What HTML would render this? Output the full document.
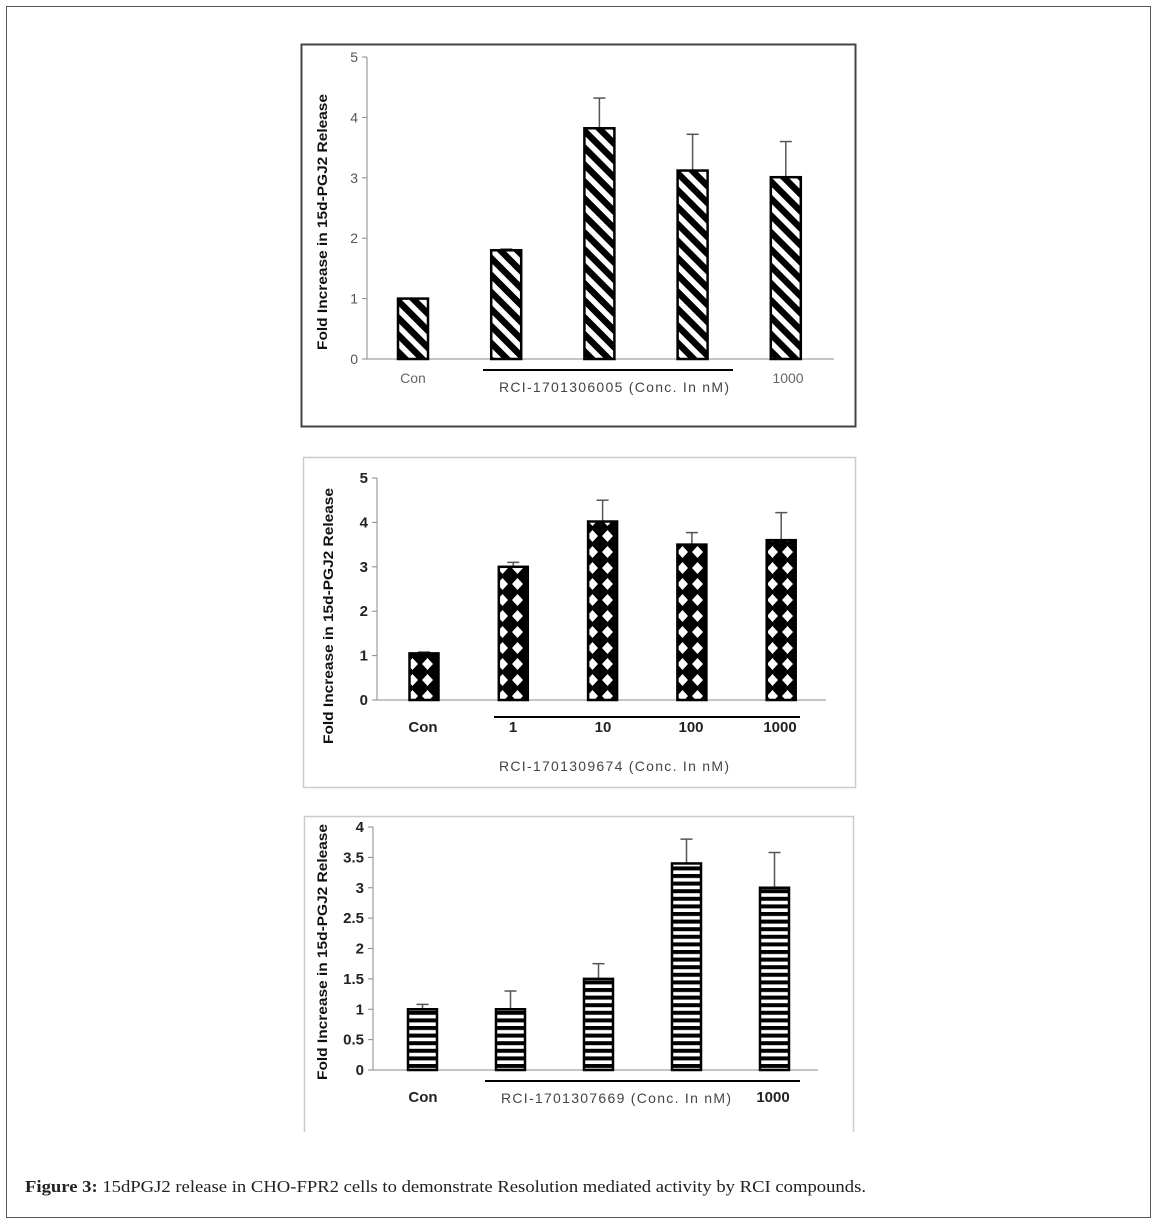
<!DOCTYPE html>
<html><head><meta charset="utf-8">
<style>
html,body{margin:0;padding:0;background:#fff;}
svg{display:block;}
</style></head>
<body>
<svg id="fig" width="1155" height="1224" xmlns="http://www.w3.org/2000/svg">
<defs>
<pattern id="diag" patternUnits="userSpaceOnUse" width="12" height="12" patternTransform="rotate(45)">
<rect width="12" height="12" fill="#fff"/><rect width="12" height="6.5" fill="#000"/>
</pattern>
<pattern id="diam" patternUnits="userSpaceOnUse" x="0" y="0" width="15" height="16">
<rect width="15" height="16" fill="#000"/>
<polygon points="7.5,2 13,8 7.5,14 2,8" fill="#fff"/>
</pattern>
<pattern id="hstr" patternUnits="userSpaceOnUse" width="10" height="7.6">
<rect width="10" height="7.6" fill="#fff"/><rect width="10" height="4" fill="#000"/>
</pattern>
</defs>
<rect x="6.5" y="6.5" width="1144" height="1211" fill="none" stroke="#555" stroke-width="1"/>
<text x="25" y="1192" font-family="'Liberation Serif',serif" font-size="16.5" fill="#222" textLength="841" lengthAdjust="spacingAndGlyphs"><tspan font-weight="bold">Figure 3:</tspan> 15dPGJ2 release in CHO-FPR2 cells to demonstrate Resolution mediated activity by RCI compounds.</text>
</svg>
<script>
const NS='http://www.w3.org/2000/svg';
const svg=document.getElementById('fig');
// Chart 1 data
const c1Categories=['Con','1','10','100','1000'];
const c1Values=[1,1.8,3.82,3.12,3.01];
const c1ErrTop=[1.0,1.82,4.32,3.72,3.6];
const c1Ticks=[0,1,2,3,4,5];
// Chart 2 data
const c2Categories=['Con','1','10','100','1000'];
const c2Values=[1.05,3.0,4.02,3.5,3.6];
const c2ErrTop=[1.08,3.1,4.5,3.77,4.22];
const c2Ticks=[0,1,2,3,4,5];
// Chart 3 data
const c3Categories=['Con','1','10','100','1000'];
const c3Values=[1,1,1.5,3.4,3.0];
const c3ErrTop=[1.08,1.3,1.75,3.8,3.58];
const c3Ticks=['0','0.5','1','1.5','2','2.5','3','3.5','4'];

function el(tag,attrs,parent){const e=document.createElementNS(NS,tag);for(const k in attrs)e.setAttribute(k,attrs[k]);(parent||svg).appendChild(e);return e;}

function chart(o){
  const g=el('g',{});
  
  
  if(o.box){const b=el('path',{d:o.box,fill:'none',stroke:o.boxColor,'stroke-width':o.boxW},g);
    }
  const yMax=o.yMax;
  const y=v=>o.y0-(v/yMax)*(o.y0-o.yTop);
  const x=i=>o.xCenters0+i*o.step;
  // axes
  const ya=el('line',{x1:o.ax,y1:o.yTop,x2:o.ax,y2:o.y0,stroke:'#888','stroke-width':1},g);
  
  const xa=el('line',{x1:o.ax,y1:o.y0,x2:o.axEnd,y2:o.y0,stroke:'#888','stroke-width':1},g);
  
  o.ticks.forEach(t=>{
    const v=parseFloat(t);
    el('line',{x1:o.ax-5,y1:y(v),x2:o.ax,y2:y(v),stroke:'#888'},g);
    const tx=el('text',{x:o.ax-9,y:y(v)+5,'text-anchor':'end','font-family':'Liberation Sans, sans-serif','font-size':o.tickFs,'font-weight':o.tickBold?'bold':'normal',fill:o.tickColor},g);
    tx.textContent=t;
    
  });
  o.values.forEach((v,i)=>{
    const cx=x(i),w=o.bw;
    const et=el('line',{x1:cx,y1:y(o.err[i]),x2:cx,y2:y(v),stroke:'#555','stroke-width':1.5},g);
    
    const cap=el('line',{x1:cx-6,y1:y(o.err[i]),x2:cx+6,y2:y(o.err[i]),stroke:'#555','stroke-width':1.5},g);
    
    const r=el('rect',{x:cx-w/2,y:y(v),width:w,height:o.y0-y(v),fill:'url(#'+o.pat+')',stroke:'#000','stroke-width':2.5},g);
    
    
  });
  const t=el('text',{transform:'translate('+o.titleX+','+o.titleY+') rotate(-90)','text-anchor':'middle','font-family':'Liberation Sans, sans-serif','font-size':14,'font-weight':'bold',fill:'#111',textLength:o.titleLen,lengthAdjust:'spacingAndGlyphs'},g);
  t.textContent='Fold Increase in 15d-PGJ2 Release';
  
  const ul=el('line',{x1:o.ul[0],y1:o.ul[2],x2:o.ul[1],y2:o.ul[2],stroke:'#000','stroke-width':2},g);
  
  o.labels.forEach(L=>{
    const lt=el('text',{x:L[1],y:L[2],'text-anchor':'middle','font-family':'Liberation Sans, sans-serif','font-size':L[3],'font-weight':L[4]?'bold':'normal',fill:L[5]||'#444'},g);
    if(L[6])lt.setAttribute('textLength',L[6]);
    lt.textContent=L[0];
    
  });
}
chart({name:'chart-rci-1701306005',box:'M301.5 44.5H855.5V426.5H301.5Z',boxColor:'#444',boxW:2,
  yMax:5,y0:359,yTop:57,ax:367,axEnd:834,xCenters0:413,step:93.2,bw:30,
  values:c1Values,err:c1ErrTop,cats:c1Categories,ticks:c1Ticks.map(String),pat:'diag',
  tickFs:14,tickBold:false,tickColor:'#555',titleX:327,titleY:222,titleLen:256,
  ul:[483,733,370],
  labels:[['Con',413,383,14,false,'#666'],['RCI-1701306005  (Conc. In nM)',614,392,14,false,'#444',230],['1000',788,383,14,false,'#666']]});
chart({name:'chart-rci-1701309674',box:'M303.5 457.5H855.5V787.5H303.5Z',boxColor:'#ccc',boxW:1.5,
  yMax:5,y0:700,yTop:478,ax:377,axEnd:826,xCenters0:424,step:89.3,bw:29,
  values:c2Values,err:c2ErrTop,cats:c2Categories,ticks:c2Ticks.map(String),pat:'diam',
  tickFs:15,tickBold:true,tickColor:'#222',titleX:333,titleY:616,titleLen:256,
  ul:[494,800,717],
  labels:[['Con',423,732,15,true,'#222'],['1',513,732,15,true,'#222'],['10',603,732,15,true,'#222'],['100',691,732,15,true,'#222'],['1000',780,732,15,true,'#222'],['RCI-1701309674  (Conc. In nM)',614,771,14,false,'#444',230]]});
chart({name:'chart-rci-1701307669',box:'M304.5 1132V816.5H853.5V1132',boxColor:'#ccc',boxW:1.5,
  yMax:4,y0:1070,yTop:827,ax:373,axEnd:818,xCenters0:422.5,step:88,bw:29,
  values:c3Values,err:c3ErrTop,cats:c3Categories,ticks:c3Ticks,pat:'hstr',
  tickFs:15,tickBold:true,tickColor:'#222',titleX:327,titleY:952,titleLen:256,
  ul:[485,800,1081],
  labels:[['Con',423,1102,15,true,'#222'],['RCI-1701307669  (Conc. In nM)',616,1103,14,false,'#444',230],['1000',773,1102,15,true,'#222']]});
</script>
</body></html>
